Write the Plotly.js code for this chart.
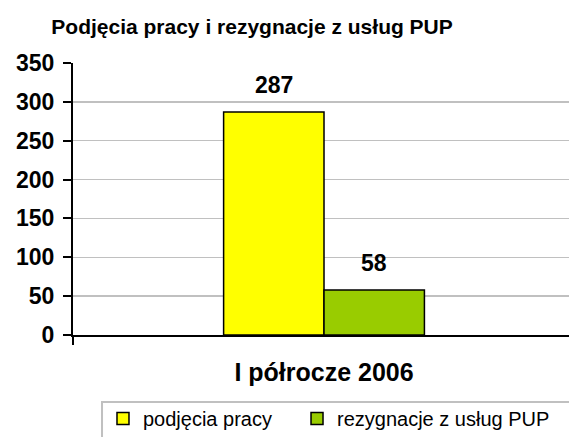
<!DOCTYPE html>
<html><head><meta charset="utf-8">
<script src="https://cdn.plot.ly/plotly-3.0.1.min.js"></script>
<style>html,body{margin:0;padding:0;overflow:hidden;background:#fff}#c{width:569px;height:437px}</style>
</head><body><div id="c"></div>
<script>
const categories = ["I półrocze 2006"];
const seriesNames = ["podjęcia pracy", "rezygnacje z usług PUP"];
const podjeciaPracy = [287];
const rezygnacje = [58];
const yTicks = [0, 50, 100, 150, 200, 250, 300, 350];

const F = "Liberation Sans, Arial, sans-serif";
const traces = [
  {type:"bar", name:seriesNames[0], x:categories, y:podjeciaPracy, legend:"legend",
   marker:{color:"#ffff00", line:{color:"#000", width:1.5}}},
  {type:"bar", name:seriesNames[1], x:categories, y:rezygnacje, legend:"legend2",
   marker:{color:"#99cc00", line:{color:"#000", width:1.5}}}
];
const annotations = [];
[podjeciaPracy, rezygnacje].forEach((arr, si) => {
  arr.forEach((v, i) => {
    annotations.push({x:categories[i], y:v, xref:"x", yref:"y", text:"<b>"+v+"</b>",
      showarrow:false, xshift:(si===0?-50:50), yshift:27, yanchor:"middle",
      font:{family:F, size:23, color:"#000"}});
  });
});
const legendStyle = (x) => ({orientation:"h", xref:"container", yref:"container", x:x, xanchor:"left",
  y:0.087, yanchor:"top", borderwidth:0, bgcolor:"rgba(0,0,0,0)",
  font:{family:F, size:20, color:"#000"}, itemwidth:30});
const layout = {
  width:569, height:437,
  margin:{l:73, r:0, t:63, b:102},
  paper_bgcolor:"#fff", plot_bgcolor:"#fff",
  title:{text:"<b>Podjęcia pracy i rezygnacje z usług PUP</b>", xref:"container", x:0.443, xanchor:"center", y:0.938, yanchor:"middle",
    font:{family:F, size:21, color:"#000"}},
  barmode:"group", bargap:0.6, bargroupgap:0,
  xaxis:{range:[-0.5, 0.488], showgrid:false, showline:true, linecolor:"#000", linewidth:2, tickson:"boundaries",
    ticks:"outside", ticklen:8, tickwidth:2, tickcolor:"#000", ticklabelstandoff:14,
    tickfont:{family:F, size:25, color:"#000", weight:"bold"}, fixedrange:true},
  yaxis:{range:[0,350], tickvals:yTicks, showgrid:true, gridcolor:"#c0c0c0", gridwidth:1.5,
    showline:true, linecolor:"#000", linewidth:2, ticks:"outside", ticklen:8, tickwidth:2, tickcolor:"#000",
    ticklabelstandoff:4,
    zeroline:false, tickfont:{family:F, size:23, color:"#000", weight:"bold"}, fixedrange:true},
  showlegend:true,
  legend:legendStyle(0.181),
  legend2:legendStyle(0.522),
  shapes:[{type:"rect", xref:"paper", yref:"paper", x0:0.0585, x1:1.2, y0:-0.2463, y1:-0.6,
    line:{color:"#c0c0c0", width:2}, fillcolor:"rgba(0,0,0,0)", layer:"below"}],
  annotations:annotations
};
Plotly.newPlot("c", traces, layout, {displayModeBar:false, staticPlot:true});
</script></body></html>
